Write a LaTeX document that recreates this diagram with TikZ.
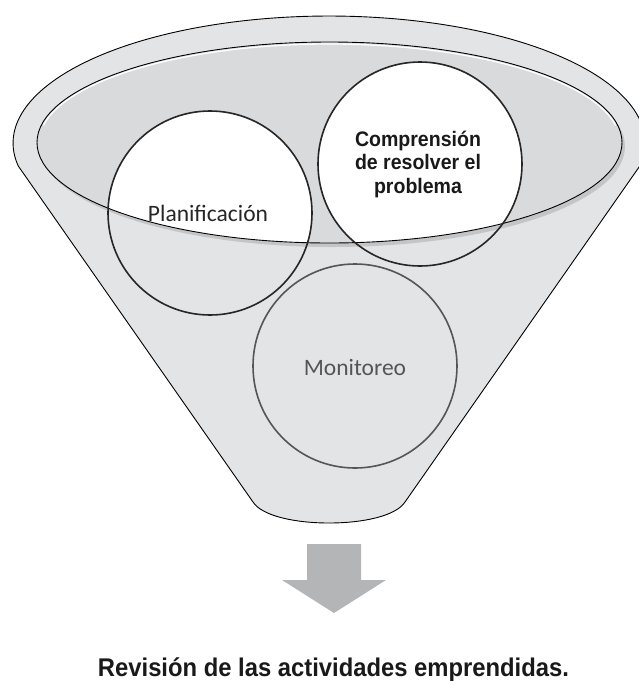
\documentclass[tikz,border=0pt]{standalone}
\usepackage{fontspec}
\setmainfont{Carlito}
\newfontfamily\headfont[FakeStretch=0.93, UprightFont=* Bold]{Liberation Sans}
\definecolor{funnelgray}{HTML}{E3E4E5}
\definecolor{rimgray}{HTML}{D9DADB}
\definecolor{shadegray}{HTML}{C4C5C6}
\definecolor{arrowgray}{HTML}{B4B5B7}
\definecolor{inkdark}{HTML}{262626}
\definecolor{inkmid}{HTML}{555555}
\begin{document}
\begin{tikzpicture}[x=1pt, y=-1pt,
  funnelbody/.style={fill=funnelgray, draw=black, line width=0.9pt, line join=round},
  rimface/.style={fill=rimgray},
  rimline/.style={draw=black, line width=0.9pt},
  topstage/.style={circle, minimum size=204pt, inner sep=0pt, draw=inkdark, line width=1.6pt},
  lowstage/.style={circle, minimum size=204pt, inner sep=0pt, draw=inkmid, line width=1.6pt},
  lighttext/.style={font=\fontsize{23.5}{26}\selectfont},
  boldtext/.style={font=\headfont\fontsize{21}{23.5}\selectfont, text=black!90, align=center}
]
\useasboundingbox (0,0) rectangle (639,681);

% outer funnel: elliptical mouth, straight sides, rounded spout
\path[funnelbody] (639.8,166)
  arc[start angle=10.43, end angle=-190.43, x radius=316, y radius=127]
  -- (253,502)
  .. controls (262,516) and (295,523) .. (329,523)
  .. controls (363,523) and (396,516) .. (405,502)
  -- cycle;

% rim of the mouth with its soft shadow
\fill[shadegray] (332.5,146.5) ellipse [x radius=292.5, y radius=100.5];
\fill[rimface] (329.5,142.5) ellipse [x radius=292.5, y radius=100.5];
\draw[white, line width=1.3pt]
  (329.5,142.5) ++(190:290.5 and 98.5)
  arc[start angle=190, end angle=350, x radius=290.5, y radius=98.5];

% white faces of the stages where they lie in the mouth
\begin{scope}
  \clip (329.5,142.5) ellipse [x radius=292.5, y radius=100.5];
  \fill[white] (210,213) circle (102pt);
  \fill[white] (420,164) circle (102pt);
\end{scope}

\draw[rimline] (329.5,142.5) ellipse [x radius=292.5, y radius=100.5];

% stages
\node[topstage] (plan) at (210,213) {};
\node[topstage] (comp) at (420,164) {};
\node[lowstage] (moni) at (355,366) {};

\node[lighttext, text=inkdark] (plantxt) at (208,213) {Planificación};
\node[boldtext] (comptxt) at (418,164) {Comprensión\\de resolver el\\problema};
\node[lighttext, text=inkmid] (monitxt) at (355,367) {Monitoreo};

% outflow arrow
\fill[arrowgray] (307,544) -- (361,544) -- (361,580) -- (386,580)
  -- (334,613) -- (282,580) -- (307,580) -- cycle;
\coordinate (spout) at (334,613);

\node[font=\headfont\fontsize{25.6}{28}\selectfont, text=black!90, anchor=base]
  (result) at (333.5,676) {Revisión de las actividades emprendidas.};
\end{tikzpicture}
\end{document}
